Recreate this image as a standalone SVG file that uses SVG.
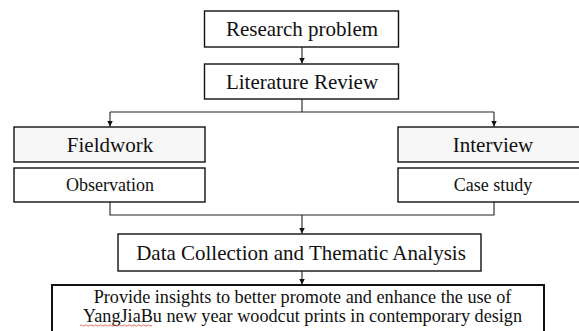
<svg xmlns="http://www.w3.org/2000/svg" width="579" height="331" viewBox="0 0 579 331">
<style>
.box{fill:#fff;stroke:#111;stroke-width:1.4}
.grey{fill:#f7f7f7}
.thick{stroke-width:2}
.t{font-family:"Liberation Serif","Times New Roman",serif;fill:#111;text-anchor:middle}
.big{font-size:21px}
.small{font-size:18px}
.mid{font-size:18.2px}
.conn{fill:none;stroke:#222;stroke-width:1.1}
</style>
<defs>
<marker id="ah" viewBox="0 0 10 10" refX="10" refY="5" markerWidth="6" markerHeight="6" markerUnits="userSpaceOnUse" orient="auto">
<path d="M0,0 L10,5 L0,10 z" fill="#111"/>
</marker>
</defs>
<rect width="579" height="331" fill="#fff"/>
<g id="connectors">
<path class="conn" d="M302,47 V63.5" marker-end="url(#ah)"/>
<path class="conn" d="M302,99 V112 M110,112 H494"/>
<path class="conn" d="M110,112 V126.5" marker-end="url(#ah)"/>
<path class="conn" d="M494,112 V126.5" marker-end="url(#ah)"/>
<path class="conn" d="M110,202 V215 H494 V202"/>
<path class="conn" d="M302,215 V233.5" marker-end="url(#ah)"/>
<path class="conn" d="M302,271 V284.5" marker-end="url(#ah)"/>
</g>
<g id="research-problem">
<rect class="box" x="204.5" y="11" width="194" height="36"/>
<text class="t big" x="302" y="35.5">Research problem</text>
</g>
<g id="literature-review">
<rect class="box" x="204.5" y="64" width="194" height="35"/>
<text class="t big" x="302" y="88.5">Literature Review</text>
</g>
<g id="fieldwork">
<rect class="box grey" x="14" y="127" width="191" height="35"/>
<text class="t big" x="110" y="151.5">Fieldwork</text>
</g>
<g id="observation">
<rect class="box" x="14" y="168" width="191" height="34"/>
<text class="t small" x="110" y="191">Observation</text>
</g>
<g id="interview">
<rect class="box grey" x="398" y="127" width="192" height="35"/>
<text class="t big" x="493" y="151.5">Interview</text>
</g>
<g id="case-study">
<rect class="box" x="398" y="168" width="192" height="34"/>
<text class="t small" x="493" y="191">Case study</text>
</g>
<g id="data-collection">
<rect class="box" x="118" y="234" width="363" height="37"/>
<text class="t big" x="301" y="259.5">Data Collection and Thematic Analysis</text>
</g>
<g id="insights">
<rect class="box thick" x="52" y="285" width="492" height="60"/>
<text class="t mid" x="302.5" y="302.5">Provide insights to better promote and enhance the use of</text>
<text class="t mid" x="302.5" y="321.5">YangJiaBu new year woodcut prints in contemporary design</text>
<path d="M80,325.5 q1.2,-1.2 2.4,0 t2.4,0 t2.4,0 t2.4,0 t2.4,0 t2.4,0 t2.4,0 t2.4,0 t2.4,0 t2.4,0 t2.4,0 t2.4,0 t2.4,0 t2.4,0 t2.4,0 t2.4,0 t2.4,0 t2.4,0 t2.4,0 t2.4,0 t2.4,0 t2.4,0 t2.4,0 t2.4,0 t2.4,0 t2.4,0 t2.4,0 t2.4,0 t2.4,0 t2.4,0" fill="none" stroke="#e0453a" stroke-width="0.8"/>
</g>
</svg>
